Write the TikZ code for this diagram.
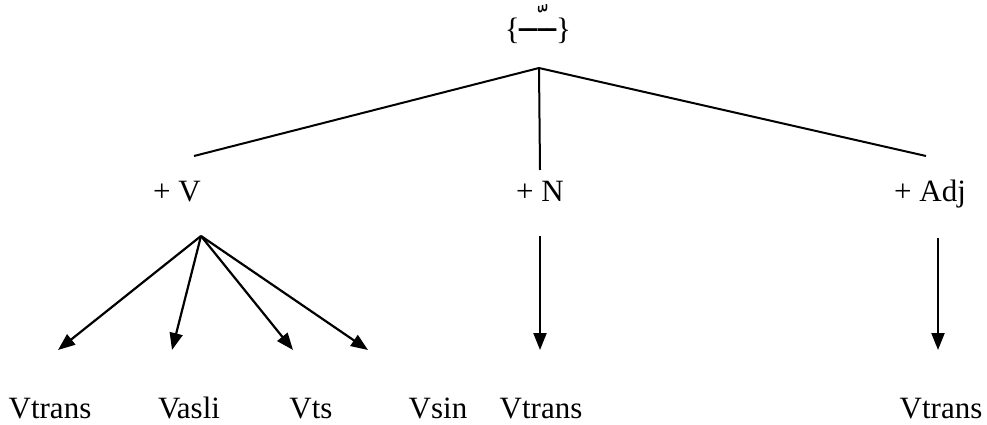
\documentclass[tikz,border=0pt]{standalone}
\usepackage{fontspec}
\setmainfont{Liberation Serif}
\newfontfamily\arabicfont[Script=Arabic]{DejaVu Sans}
\TeXXeTstate=1
\usetikzlibrary{arrows.meta}
\begin{document}
\begin{tikzpicture}[x=1pt,y=-1pt,
  lbl/.style={inner sep=0pt,anchor=base,font=\fontsize{31}{37}\selectfont},
  edge/.style={line width=2pt},
  arr/.style={line width=2.2pt,-{Triangle[length=17pt,width=13pt]}}]
\useasboundingbox (0,0) rectangle (987,425);
\node[lbl] (root) at (538,40) {\{\raisebox{8pt}{\arabicfont\beginR ــّــ\endR}\}};
\coordinate (apex) at (539,68);
\coordinate (vtop) at (194,156);
\coordinate (ntop) at (540,170);
\coordinate (atop) at (926,156);
\node[lbl] (v) at (177,201) {+ V};
\node[lbl] (n) at (540,201) {+ N};
\node[lbl] (adj) at (930,201) {+ Adj};
\coordinate (vs) at (201,236);
\coordinate (ns) at (540,236);
\coordinate (as) at (938,238);
\coordinate (t1) at (58,350);
\coordinate (t2) at (172,350);
\coordinate (t3) at (293,350);
\coordinate (t4) at (368,350);
\coordinate (t5) at (540,350);
\coordinate (t6) at (938,350);
\node[lbl] (b1) at (50,418) {Vtrans};
\node[lbl] (b2) at (189,418) {Vasli};
\node[lbl] (b3) at (311,418) {Vts};
\node[lbl] (b4) at (438,418) {Vsin};
\node[lbl] (b5) at (541,418) {Vtrans};
\node[lbl] (b6) at (941,418) {Vtrans};
\draw[edge] (apex) -- (vtop);
\draw[edge] (apex) -- (ntop);
\draw[edge] (apex) -- (atop);
\draw[arr] (vs) -- (t1);
\draw[arr] (vs) -- (t2);
\draw[arr] (vs) -- (t3);
\draw[arr] (vs) -- (t4);
\draw[arr] (ns) -- (t5);
\draw[arr] (as) -- (t6);
\end{tikzpicture}
\end{document}
